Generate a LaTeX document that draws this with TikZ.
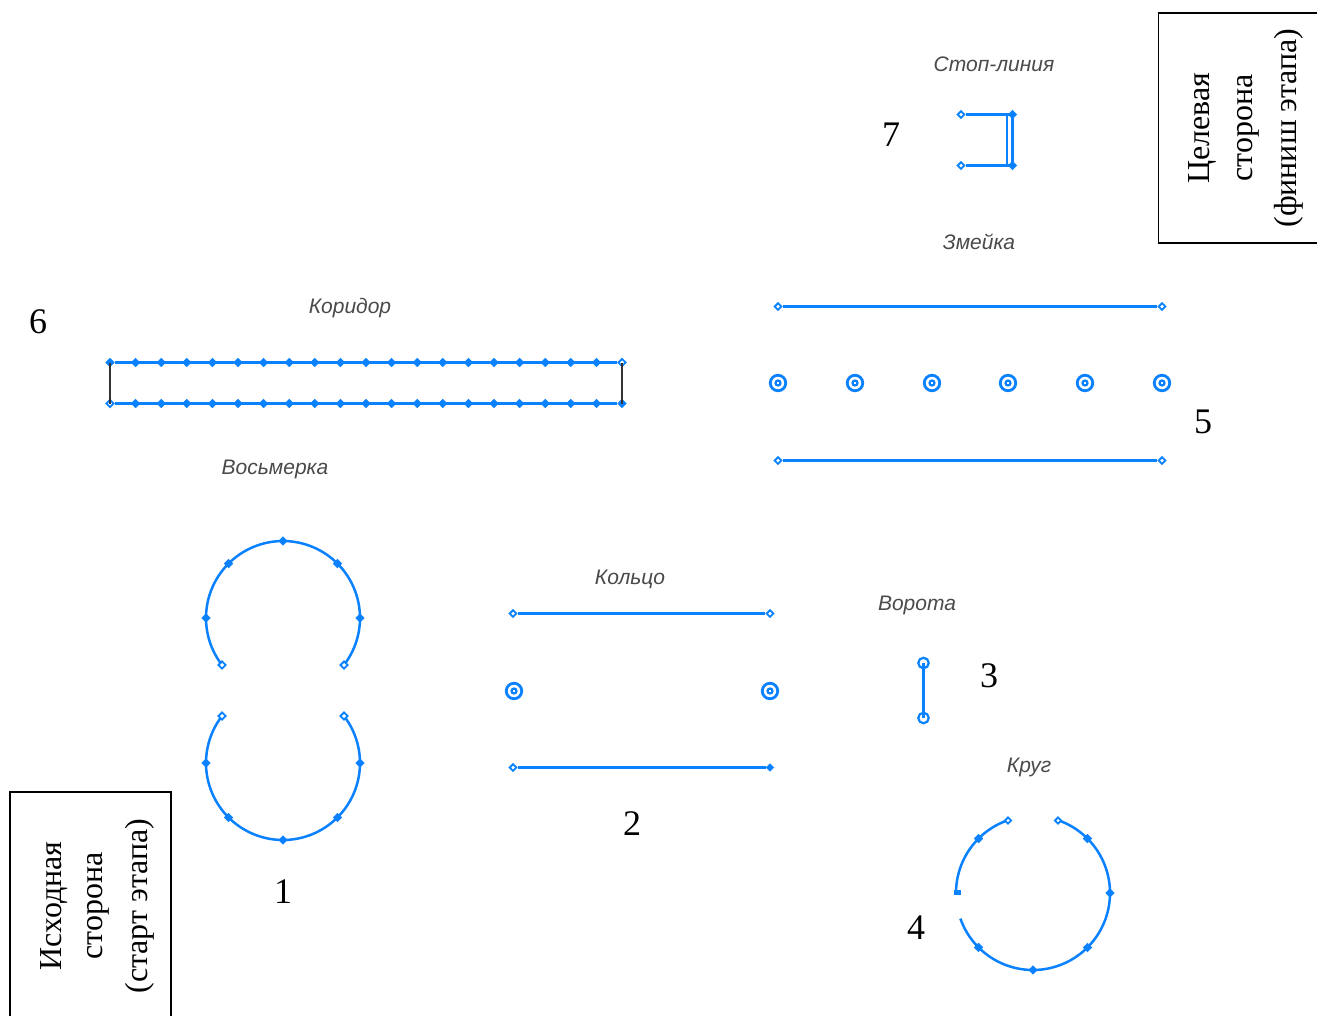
\documentclass[tikz,border=0pt]{standalone}
\usepackage{fontspec}
\setmainfont{Liberation Serif}
\newfontfamily\lblfont{Liberation Sans}
\usetikzlibrary{shapes.geometric}
\definecolor{cadblue}{HTML}{0A82FF}
\definecolor{lblgray}{HTML}{4A4A4A}
\tikzset{
  cadline/.style={draw=cadblue,line width=2.8pt},
  cadarc/.style={draw=cadblue,line width=2.5pt},
  thinblack/.style={draw=black!80,line width=1.4pt},
  fillmark/.style={diamond,fill=cadblue,draw=cadblue,line width=.8pt,inner sep=0pt,minimum size=8.5pt},
  openmark/.style={diamond,fill=white,draw=cadblue,line width=1.9pt,inner sep=0pt,minimum size=8pt},
  gatemark/.style={circle,fill=white,draw=cadblue,line width=2.2pt,inner sep=0pt,minimum size=10.5pt},
  ringouter/.style={circle,draw=cadblue,line width=2.8pt,inner sep=0pt,minimum size=15.5pt},
  ringinner/.style={circle,draw=cadblue,line width=2.2pt,inner sep=0pt,minimum size=5pt},
  tag/.style={font=\lblfont\itshape\fontsize{21}{24}\selectfont,text=lblgray,inner sep=0pt},
  num/.style={font=\fontsize{36}{40}\selectfont,text=black,inner sep=0pt},
  sidetext/.style={font=\fontsize{32}{38}\selectfont,text=black,inner sep=0pt,rotate=90},
  sidebox/.style={draw=black,line width=1.3pt,fill=none},
}
\begin{document}
\begin{tikzpicture}[x=1pt,y=-1pt]
\useasboundingbox (0,0) rectangle (1317,1015);
\clip (0,0) rectangle (1317,1015);
\fill[white] (0,0) rectangle (1317,1015);

% side boxes
\draw[sidebox] (1158.5,13) rectangle (1330,243);
\draw[sidebox] (10,792) rectangle (171,1030);
\node[sidetext] (t1) at (1202,128) {Целевая};
\node[sidetext] (t2) at (1248,128) {сторона};
\node[sidetext] (t3) at (1289,128) {(финиш этапа)};
\node[sidetext] (s1) at (54,906) {Исходная};
\node[sidetext] (s2) at (98,906) {сторона};
\node[sidetext] (s3) at (140,906) {(старт этапа)};

% labels
\node[tag] (lstop) at (994,64) {Стоп-линия};
\node[tag] (lsnake) at (979,242) {Змейка};
\node[tag] (lcorr) at (350,308) {Коридор};
\node[tag] (leight) at (275,469) {Восьмерка};
\node[tag] (lring) at (630,579) {Кольцо};
\node[tag] (lgate) at (917,605) {Ворота};
\node[tag] (lcirc) at (1029,767) {Круг};

% numbers
\node[num] (n1) at (283,892) {1};
\node[num] (n2) at (632,824) {2};
\node[num] (n3) at (989,676) {3};
\node[num] (n4) at (916,928) {4};
\node[num] (n5) at (1203,422) {5};
\node[num] (n6) at (38,322) {6};
\node[num] (n7) at (891,135) {7};

% corridor
\node[fillmark] (ct0) at (110,362.5) {};
\node[openmark] (ct20) at (622,362.5) {};
\node[openmark] (cb0) at (110,403.5) {};
\node[fillmark] (cb20) at (622,403.5) {};
\draw[thinblack] (ct0.center) -- (cb0.center);
\draw[thinblack] (ct20.center) -- (cb20.center);
\draw[cadline] (ct0) -- (ct20);
\draw[cadline] (cb0) -- (cb20);
\foreach \i in {1,...,19}{
  \node[fillmark] (ct\i) at ({110+25.6*\i},362.5) {};
  \node[fillmark] (cb\i) at ({110+25.6*\i},403.5) {};
}

% snake
\node[openmark,minimum size=7.5pt] (sa1) at (778,306.5) {};
\node[openmark,minimum size=7.5pt] (sa2) at (1162,306.5) {};
\node[openmark,minimum size=7.5pt] (sb1) at (778,460.5) {};
\node[openmark,minimum size=7.5pt] (sb2) at (1162,460.5) {};
\draw[cadline] (sa1) -- (sa2);
\draw[cadline] (sb1) -- (sb2);
\foreach \px [count=\k] in {778,855,932,1008,1085,1162}{
  \node[ringouter] (so\k) at (\px,383) {};
  \node[ringinner] (si\k) at (\px,383) {};
}

% stop line
\node[openmark,minimum size=7.5pt] (p1) at (961,114.5) {};
\node[fillmark] (p2) at (1012.5,114.5) {};
\node[openmark,minimum size=7.5pt] (p3) at (961,165.5) {};
\node[fillmark] (p4) at (1012.5,165.5) {};
\coordinate (q1) at (1007,114.5);
\coordinate (q2) at (1007,165.5);
\draw[cadline] (p1) -- (p2.center);
\draw[cadline] (p3) -- (p4.center);
\draw[cadline] (p2.center) -- (p4.center);
\draw[cadline] (q1) -- (q2);

% ring
\node[openmark,minimum size=7.5pt] (ra1) at (513,613.5) {};
\node[openmark,minimum size=7.5pt] (ra2) at (770,613.5) {};
\node[openmark,minimum size=7.5pt] (rb1) at (513,767.5) {};
\node[fillmark,minimum size=7.5pt] (rb2) at (770,767.5) {};
\draw[cadline] (ra1) -- (ra2);
\draw[cadline] (rb1) -- (rb2);
\node[ringouter] (ro1) at (514,691) {};
\node[ringinner] (ri1) at (514,691) {};
\node[ringouter] (ro2) at (770,691) {};
\node[ringinner] (ri2) at (770,691) {};

% gate
\node[gatemark] (g1) at (923.5,663) {};
\node[gatemark] (g2) at (923.5,718) {};
\draw[cadline] (g1.center) -- (g2.center);

% figure eight
\draw[cadarc] plot[domain=142.4:397.6,samples=80] ({283+77*cos(\x)},{618+77*sin(\x)});
\draw[cadarc] plot[domain=-142.4:-397.6,samples=80] ({283+77*cos(\x)},{763+77*sin(\x)});
\foreach \a [count=\k] in {180,225,270,315,360}{
  \node[fillmark] (eu\k) at ({283+77*cos(\a)},{618+77*sin(\a)}) {};
}
\foreach \a [count=\k] in {0,45,90,135,180}{
  \node[fillmark] (el\k) at ({283+77*cos(\a)},{763+77*sin(\a)}) {};
}
\node[openmark] (eo1) at (222,665) {};
\node[openmark] (eo2) at (344,665) {};
\node[openmark] (eo3) at (222,716) {};
\node[openmark] (eo4) at (344,716) {};

% circle
\draw[cadarc] plot[domain=180:251,samples=40] ({1033+77*cos(\x)},{893+77*sin(\x)});
\draw[cadarc] plot[domain=289:520.6,samples=80] ({1033+77*cos(\x)},{893+77*sin(\x)});
\foreach \a [count=\k] in {225,315,360,405,450,495}{
  \node[fillmark] (cm\k) at ({1033+77*cos(\a)},{893+77*sin(\a)}) {};
}
\node[fill=cadblue,inner sep=0pt,minimum width=7pt,minimum height=5pt] (cs) at (957,892) {};
\node[openmark,minimum size=7pt] (co1) at (1008,820.5) {};
\node[openmark,minimum size=7pt] (co2) at (1058,820.5) {};
\end{tikzpicture}
\end{document}
